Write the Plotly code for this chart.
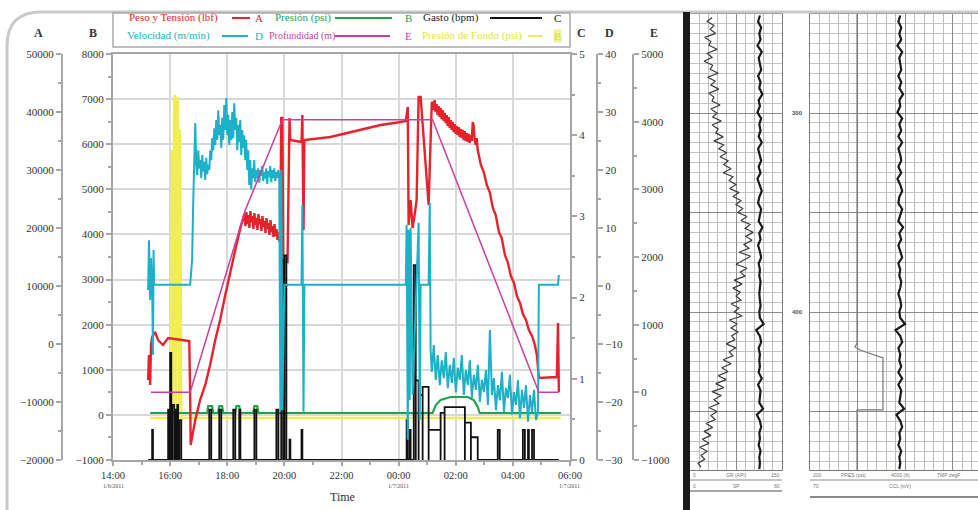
import numpy as np
import pandas as pd
import plotly.graph_objects as go

W, H = 978, 510
SERIF = "Liberation Serif, Times New Roman, serif"
SANS = "Liberation Sans, Arial, sans-serif"
BASE = pd.Timestamp("2011-01-06 14:00")

ROJO = "#e8222b"
CIAN = "#1cb0c9"
VERDE = "#1fa64a"
NEGRO = "#111111"
MAGENTA = "#cc3f9c"
AMARILLO = "#f1ee55"

# ---------------- Peso y Tensión (lbf) -> eje A ----------------
# times are hours after 14:00 on 1/6/2011
peso_inicio_t = [1.23, 1.26, 1.30, 1.33, 1.37, 1.47, 1.58, 1.75, 1.93, 2.35, 2.67, 2.70, 2.72,
                 2.88, 3.05, 3.23, 3.40, 3.58, 3.75, 3.93, 4.11, 4.28, 4.46]
peso_inicio_lbf = [-6210, -1900, -7070, -170, 1210, 2070, 690, -170, 1030, 690, 520, -8280, -17410,
                   -13100, -9650, -7070, -3620, 690, 4140, 8450, 12760, 16210, 20000]
peso_meseta_lbf = [22410, 20340, 22760, 20690, 22240, 20000, 22930, 21030, 22070, 19830, 22590, 20520,
                   21720, 19660, 22410, 20690, 21550, 19480, 22070, 20170, 21210, 19140, 21720, 19830,
                   20860, 18790, 21380, 19310, 20340, 18450, 20690, 18620, 19830, 17930, 19310, 17590]
peso_medio_t = [5.86, 5.89, 5.93, 5.96, 6.11, 6.18, 6.21, 6.60, 6.63, 6.67, 6.70, 7.61, 8.67, 9.37,
                10.07, 10.25, 10.32, 10.35, 10.42, 10.49, 10.56, 10.63, 10.70, 10.77, 11.05, 11.16]
peso_medio_lbf = [18790, 38960, 38960, 14140, 14140, 38960, 35170, 34830, 39480, 19660, 35170, 35690,
                  36900, 37760, 38280, 38450, 40860, 20520, 24830, 20000, 22240, 24830, 42590, 42590,
                  23960, 41550]
peso_bajada_lbf = [41720, 40340, 42070, 40000, 41380, 39480, 41030, 39140, 40690, 38790, 40340, 38450,
                   39830, 38100, 39480, 37590, 39140, 37240, 38620, 36900, 38280, 36550, 37930, 36210,
                   37590, 36030, 37410, 35690, 37070, 35520, 36900, 35170, 36720, 35000, 36380, 34830,
                   36210, 34660, 36030, 35000, 38280, 37590, 35170, 34310, 35520, 33450]
peso_final_t = [12.88, 12.98, 13.09, 13.19, 13.30, 13.40, 13.51, 13.61, 13.72, 13.82, 13.93, 14.04,
                14.14, 14.25, 14.35, 14.46, 14.56, 14.67, 14.77, 14.84, 14.91, 15.54, 15.58, 15.61]
peso_final_lbf = [30860, 29650, 27410, 26210, 23450, 22240, 19310, 18280, 15340, 14140, 11720, 10520,
                  8280, 7070, 5170, 4140, 2410, 1380, -170, -1900, -5860, -5690, 3620, -8280]

# ---------------- Velocidad (m/min) -> eje D ----------------
vel_inicio_t = [1.23, 1.26, 1.30, 1.33, 1.37, 1.40, 1.42, 1.44, 2.70, 2.77]
vel_inicio = [-0.7, 7.9, -2.4, 4.8, 0.2, -11.9, 6.2, 0.2, 0.2, 4.5]
vel_bajando = [14.8, 23.4, 28.1, 20.9, 19.1, 23.4, 20.3, 21.7, 18.6, 22.6, 19.7, 21.4, 18.3, 22.1, 19.3,
               20.9, 20.0, 23.4, 21.7, 25.5, 23.4, 27.2, 24.3, 28.6, 25.2, 30.3, 26.0, 27.8, 23.8, 29.0,
               25.2, 31.2, 26.9, 32.4, 26.0, 29.5, 24.3, 28.6, 25.2, 30.0, 25.5, 31.5, 26.9, 29.0, 23.4,
               27.8, 24.8, 28.6, 22.6, 26.9, 23.8, 26.0, 21.7, 25.2, 20.0, 23.4, 17.4, 21.7, 16.6, 20.3,
               18.6, 21.7, 17.9, 20.0, 18.6, 20.3, 17.8, 20.0, 19.0, 20.7, 18.1, 19.7, 18.5, 20.3, 17.6,
               19.8, 18.8, 20.7, 17.9, 20.0, 18.6, 20.3, 18.1, 19.7, 18.6, 20.0, 19.0]
vel_medio_t = [5.86, 5.89, 5.93, 6.00, 6.60, 6.63, 6.67, 6.70, 10.25, 10.28, 10.32, 10.35, 10.39, 10.42,
               10.49, 10.63, 10.70, 10.74, 10.77, 11.05, 11.09, 11.12]
vel_medio = [-21.7, 20.0, -21.4, 0.2, 0.2, 14.0, -21.7, 0.2, 0.2, 10.5, -26.5, 9.7, -19.7, 10.0,
             -18.8, 0.2, 10.9, -23.1, 0.2, 0.2, 14.3, -11.0]
vel_subiendo = [-14.8, -10.2, -16.2, -11.9, -17.1, -12.8, -15.9, -11.4, -17.6, -13.6, -16.7, -12.4,
                -18.3, -14.1, -16.2, -11.9, -18.8, -14.5, -17.1, -12.8, -19.3, -15.3, -17.9, -13.6,
                -20.0, -16.2, -18.3, -14.5, -20.5, -7.6, -18.8, -15.9, -21.4, -17.1, -19.7, -14.8,
                -21.7, -17.6, -19.3, -15.3, -22.2, -18.3, -20.5, -16.2, -22.8, -17.9, -21.0, -17.1,
                -23.4, -18.8, -21.7, -17.9, -23.1, -21.7]
vel_final_t = [14.91, 15.58, 15.61]
vel_final = [0.2, 0.2, 1.9]

# ---------------- Gasto (bpm) -> eje C, pulses ----------------
gasto_inicio = [1.37, 1.93, 2.00, 2.07, 2.18, 2.25, 2.32, 3.37, 3.72, 4.21, 4.42, 4.95, 5.72, 5.89,
                6.00, 6.18, 6.60, 10.28, 10.39, 10.53, 10.60, 10.70, 10.84, 11.05, 11.47, 11.61,
                12.32, 12.53, 13.47, 14.35, 14.53, 14.67]
gasto_fin = [1.40, 1.96, 2.04, 2.14, 2.21, 2.28, 2.39, 3.44, 3.79, 4.28, 4.46, 5.02, 5.79, 5.96,
             6.07, 6.21, 6.63, 10.32, 10.42, 10.60, 10.70, 10.84, 11.05, 11.47, 11.61, 12.32,
             12.53, 12.77, 13.54, 14.42, 14.56, 14.74]
gasto_bpm = [0.37, 0.62, 1.32, 0.68, 0.62, 0.68, 0.49, 0.62, 0.62, 0.62, 0.62, 0.62, 0.62, 2.46,
             2.52, 0.25, 0.37, 0.49, 0.37, 2.40, 0.98, 0.80, 0.90, 0.37, 0.58, 0.65,
             0.46, 0.28, 0.37, 0.37, 0.37, 0.37]

# ---------------- Presión (psi) -> eje B ----------------
pres_t = [1.30, 3.30, 3.33, 3.47, 3.51, 3.68, 3.72, 3.82, 3.86, 4.28, 4.32, 4.42, 4.46, 4.91, 4.95,
          5.05, 5.09, 11.19, 11.30, 11.47, 11.82, 12.42, 12.63, 12.77, 12.84, 15.68]
pres_psi = [42, 42, 197, 197, 42, 42, 197, 197, 42, 42, 197, 197, 42, 42, 197,
            197, 42, 42, 219, 330, 397, 397, 330, 175, 42, 42]

# ---------------- Presión de Fondo (psi) -> eje B ----------------
fondo_t = [1.30, 2.00, 2.04, 2.07, 2.11, 2.14, 2.18, 2.21, 2.25, 2.28, 2.32, 2.35, 2.39, 15.68]
fondo_psi = [-69, -69, 2547, 5872, -69, 6980, 7091, -69, 7047, 6869, -69, 6315, -69, -69]

# ---------------- Profundidad (m) -> eje E ----------------
prof_t = [1.33, 2.70, 4.63, 5.93, 11.19, 14.74, 14.91, 15.61]
prof_m = [0, 0, 2690, 4030, 4030, 210, 0, 0]

# ---------------- registro de pozo (panel derecho) ----------------
gr_api = [36, 28, 39, 33, 42, 24, 34, 31, 44, 28, 36, 23, 37, 33, 46, 29, 41, 34, 47, 31,
          39, 36, 49, 34, 44, 37, 51, 36, 46, 42, 54, 39, 55, 47, 60, 49, 62, 55, 67, 54,
          70, 64, 75, 65, 80, 70, 83, 75, 86, 78, 93, 83, 98, 90, 103, 91, 101, 88, 96, 80,
          99, 88, 75, 93, 82, 90, 72, 85, 70, 82, 75, 83, 67, 80, 72, 85, 64, 77, 67, 78,
          68, 73, 59, 75, 64, 70, 54, 67, 52, 62, 46, 59, 42, 55, 36, 51, 39, 47, 31, 44,
          34, 41, 26, 37, 23, 34, 20, 31, 16, 28, 18, 24, 13, 18]
ccl_pista1 = [114, 111, 116, 113, 115, 110, 117, 112, 114, 116, 111, 115, 113, 118, 112, 114, 110, 116,
              113, 115, 112, 117, 111, 114, 116, 112, 115, 110, 114, 117, 113, 111, 116, 114, 112, 118,
              113, 115, 111, 114, 116, 112, 114, 113, 115, 114, 113, 114, 115, 113, 114, 120, 108, 114,
              116, 112, 114, 113, 114, 112, 117, 111, 115, 114, 113, 119, 109, 114, 116, 113, 114, 112,
              115, 113, 114, 113]
ccl_pista2 = [95, 93, 96, 94, 96, 92, 97, 94, 95, 96, 93, 96, 94, 98, 94, 95, 92, 97, 94, 96, 93, 97,
              93, 95, 96, 93, 96, 92, 95, 97, 94, 93, 97, 95, 93, 98, 94, 96, 93, 95, 97, 93, 95, 94,
              96, 95, 93, 95, 96, 94, 95, 100, 90, 95, 97, 93, 95, 94, 96, 93, 97, 93, 96, 95, 94,
              99, 91, 95, 97, 94, 95, 93, 96, 94, 95, 94]
presion_log_prof = [250.0, 415.6, 417.6, 419.1, 423.1, 449.2, 449.2, 479.5]
presion_log_val = [49.5, 49.5, 47.4, 52.6, 76.8, 76.8, 49.5, 49.5]

x_horas = list(range(0, 17, 2))
x_etiquetas = ["14:00", "16:00", "18:00", "20:00", "22:00", "00:00", "02:00", "04:00", "06:00"]
x_fechas = {0: "1/6/2011", 10: "1/7/2011", 16: "1/7/2011"}


def horas(h):
    return BASE + pd.to_timedelta(np.asarray(h, dtype=float), unit="h")


def px(x):
    return x / W


def py(y):
    return 1 - y / H


peso_t = (peso_inicio_t + list(np.linspace(4.60, 5.83, len(peso_meseta_lbf))) + peso_medio_t
          + list(np.linspace(11.19, 12.77, len(peso_bajada_lbf))) + peso_final_t)
peso = peso_inicio_lbf + peso_meseta_lbf + peso_medio_lbf + peso_bajada_lbf + peso_final_lbf

vel_t = (vel_inicio_t + list(np.linspace(2.81, 5.82, len(vel_bajando))) + vel_medio_t
         + list(np.linspace(11.16, 14.88, len(vel_subiendo))) + vel_final_t)
vel = vel_inicio + vel_bajando + vel_medio + vel_subiendo + vel_final

gasto_t, gasto = [1.23], [0.0]
for s, e, v in zip(gasto_inicio, gasto_fin, gasto_bpm):
    gasto_t += [s, s, e, e]
    gasto += [0.0, v, v, 0.0]
gasto_t.append(15.61)
gasto.append(0.0)

fig = go.Figure()


def linea(t, v, color, width, axis):
    fig.add_trace(go.Scatter(x=horas(t), y=v, mode="lines", yaxis=axis, hoverinfo="skip",
                             line=dict(color=color, width=width), showlegend=False))


linea(fondo_t, fondo_psi, AMARILLO, 2.5, "y")
linea(pres_t, pres_psi, VERDE, 2.2, "y")
linea(prof_t, prof_m, MAGENTA, 1.5, "y5")
linea(vel_t, vel, CIAN, 2.0, "y4")
linea(peso_t, peso, ROJO, 2.4, "y2")
linea(gasto_t, gasto, NEGRO, 1.8, "y3")

# well log tracks
prof1 = np.linspace(252, 478, len(gr_api))
fig.add_trace(go.Scatter(x=gr_api, y=prof1, mode="lines", xaxis="x2", yaxis="y6", hoverinfo="skip",
                         line=dict(color="#3a3a3a", width=1.2), showlegend=False))
prof2 = np.linspace(251, 479, len(ccl_pista1))
fig.add_trace(go.Scatter(x=ccl_pista1, y=prof2, mode="lines", xaxis="x2", yaxis="y6", hoverinfo="skip",
                         line=dict(color="#1a1a1a", width=2.2), showlegend=False))
prof3 = np.linspace(251, 479, len(ccl_pista2))
fig.add_trace(go.Scatter(x=ccl_pista2, y=prof3, mode="lines", xaxis="x3", yaxis="y7", hoverinfo="skip",
                         line=dict(color="#1a1a1a", width=2.2), showlegend=False))
fig.add_trace(go.Scatter(x=presion_log_val, y=presion_log_prof, mode="lines", xaxis="x3", yaxis="y7",
                         hoverinfo="skip", line=dict(color="#777777", width=1.2), showlegend=False))

AX = "#a6a6a6"
tick_font = dict(family=SERIF, size=11, color="#333333")


def eje_y(rng, dtick, minor, **kw):
    d = dict(range=rng, dtick=dtick, showline=True, linecolor=AX, linewidth=2, ticks="outside",
             ticklen=5, tickwidth=1.5, tickcolor=AX, tickfont=tick_font, zeroline=False,
             showgrid=False, tickformat="d", automargin=False,
             minor=dict(dtick=minor, ticks="outside", ticklen=3, tickcolor=AX),
             fixedrange=True)
    d.update(kw)
    return d


xdom = [px(113), px(570)]
ydom = [py(460), py(54)]

log_grid = dict(showticklabels=False, ticks="", zeroline=False, showline=True, mirror=True,
                linecolor="#7a7a7a", linewidth=1, gridcolor="#8c8c8c", gridwidth=1.1,
                fixedrange=True, automargin=False)

fig.update_layout(
    width=W, height=H, margin=dict(l=0, r=0, t=0, b=0, pad=0, autoexpand=False), autosize=False,
    paper_bgcolor="white", plot_bgcolor="white",
    xaxis=dict(domain=xdom, type="date", range=[BASE, BASE + pd.Timedelta(hours=16)],
               tickvals=list(horas(x_horas)), ticktext=x_etiquetas,
               tickfont=dict(family=SERIF, size=10.5, color="#333333"),
               showgrid=True, gridcolor="#d9d9d9", gridwidth=1.5, showline=True, mirror=True,
               linecolor=AX, linewidth=2, ticks="outside", ticklen=4, tickwidth=1.5, tickcolor=AX,
               minor=dict(dtick=3600000, ticks="outside", ticklen=3, tickcolor=AX),
               zeroline=False, fixedrange=True, automargin=False),
    yaxis=eje_y([-1000, 8000], 1000, 500, domain=ydom, anchor="x", side="left",
                showgrid=True, gridcolor="#d9d9d9", gridwidth=1.5),
    yaxis2=eje_y([-20000, 50000], 10000, 5000, overlaying="y", anchor="free", position=px(62),
                 side="left"),
    yaxis3=eje_y([0, 5], 1, 0.5, overlaying="y", anchor="x", side="right"),
    yaxis4=eje_y([-30, 40], 10, 5, overlaying="y", anchor="free", position=px(597), side="right"),
    yaxis5=eje_y([-1000, 5000], 1000, 500, overlaying="y", anchor="free", position=px(633),
                 side="right"),
    xaxis2=dict(domain=[px(690), px(782)], anchor="y6", range=[0, 150], dtick=75, tick0=0,
                minor=dict(dtick=15, showgrid=True, gridcolor="#bdbdbd", gridwidth=0.8), **log_grid),
    yaxis6=dict(domain=[py(470), py(14)], anchor="x2", range=[479.4, 250.25], dtick=50, tick0=250,
                minor=dict(dtick=5, showgrid=True, gridcolor="#c4c4c4", gridwidth=0.8), **log_grid),
    xaxis3=dict(domain=[px(810), 1.0], anchor="y7", range=[0, 176.8], dtick=50, tick0=0,
                minor=dict(dtick=10, showgrid=True, gridcolor="#bdbdbd", gridwidth=0.8), **log_grid),
    yaxis7=dict(domain=[py(470), py(14)], anchor="x3", range=[479.4, 250.25], dtick=50, tick0=250,
                minor=dict(dtick=5, showgrid=True, gridcolor="#c4c4c4", gridwidth=0.8), **log_grid),
)

shapes = []
# outer rounded frame
frame = (f"M {px(7)},{py(510)} L {px(7)},{py(46)} Q {px(7)},{py(12)} {px(41)},{py(12)} "
         f"L {px(978)},{py(12)}")
shapes.append(dict(type="path", path=frame, xref="paper", yref="paper",
                   line=dict(color="#c9c9c9", width=3)))
# dark separator bar before the well log
shapes.append(dict(type="rect", xref="paper", yref="paper", x0=px(683), x1=px(690), y0=0, y1=py(12),
                   fillcolor="#1b1b1b", line=dict(width=0)))
# legend box
shapes.append(dict(type="rect", xref="paper", yref="paper", x0=px(113), x1=px(570), y0=py(47),
                   y1=py(13), line=dict(color="#a9a9a9", width=1.5), fillcolor="white"))
leg_lines = [(232, 250, 18, ROJO), (335, 392, 18, VERDE), (490, 542, 18, NEGRO),
             (222, 248, 36, CIAN), (335, 390, 36, MAGENTA), (528, 542, 36, AMARILLO)]
for x0, x1, y, c in leg_lines:
    shapes.append(dict(type="line", xref="paper", yref="paper", x0=px(x0), x1=px(x1), y0=py(y),
                       y1=py(y), line=dict(color=c, width=2)))
# log header rules
for x0, x1, y, wdt in [(690, 782, 480, 1), (690, 782, 491, 1.5), (810, 978, 480, 1),
                       (810, 978, 497, 2)]:
    shapes.append(dict(type="line", xref="paper", yref="paper", x0=px(x0), x1=px(x1), y0=py(y),
                       y1=py(y), line=dict(color="#8a8a8a", width=wdt)))

ann = []


def texto(x, y, s, color="#333333", size=11, anchor="left", fam=SERIF, bg=None):
    d = dict(x=px(x), y=py(y), xref="paper", yref="paper", text=s, showarrow=False,
             xanchor=anchor, yanchor="middle", font=dict(family=fam, size=size, color=color),
             borderpad=0)
    if bg:
        d["bgcolor"] = bg
    ann.append(d)


# legend text
texto(173, 18, "Peso y Tensión (lbf)", ROJO, anchor="center")
texto(259, 18, "A", ROJO, anchor="center")
texto(303, 18, "Presión (psi)", VERDE, anchor="center")
texto(408, 18, "B", VERDE, anchor="center")
texto(451, 18, "Gasto (bpm)", "#222222", anchor="center")
texto(557, 18, "C", "#222222", anchor="center")
texto(168, 36, "Velocidad (m/min)", CIAN, anchor="center")
texto(259, 36, "D", CIAN, anchor="center")
texto(302, 36, "Profundidad (m)", MAGENTA, anchor="center", size=10)
texto(408, 36, "E", MAGENTA, anchor="center")
texto(472, 36, "Presión de Fondo (psi)", "#e6e33c", anchor="center")
texto(557, 36, "B", "#d7de3a", anchor="center", bg="#eef39c")

# axis letters
for x, s in [(38, "A"), (93, "B"), (581, "C"), (609, "D"), (654, "E")]:
    texto(x, 33, f"<b>{s}</b>", "#333333", size=12, anchor="center")
texto(342, 497, "Time", "#333333", size=12, anchor="center")

# dates under the time ticks
for h, fecha in x_fechas.items():
    texto(113 + h * 28.5, 486, fecha, "#555555", size=6, anchor="center")

# depth labels and log headers
texto(797, 113, "<b>300</b>", "#555555", size=6, anchor="center", fam=SANS)
texto(797, 312, "<b>400</b>", "#555555", size=6, anchor="center", fam=SANS)
for x, y, s, a in [(692, 475, "0", "left"), (736, 475, "GR (API)", "center"), (781, 475, "150", "right"),
                   (692, 486, "0", "left"), (736, 486, "SP", "center"), (781, 486, "80", "right"),
                   (812, 475, "200", "left"), (853, 475, "PRES (psi)", "center"),
                   (900, 475, "4000 (ft)", "center"), (948, 475, "TMP degF", "center"),
                   (812, 486, "70", "left"), (900, 486, "CCL (mV)", "center")]:
    texto(x, y, s, "#777777", size=5, anchor=a, fam=SANS)

fig.update_layout(shapes=shapes, annotations=ann)
fig.write_html("out.html")
